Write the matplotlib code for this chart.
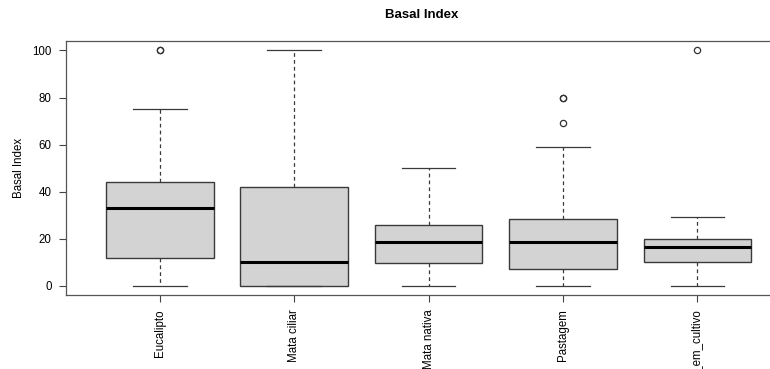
import matplotlib.pyplot as plt

# valores (estatísticas dos boxplots)
categorias = ["Eucalipto", "Mata ciliar", "Mata nativa", "Pastagem", "Area_em_cultivo"]
minimos = [0, 0, 0, 0, 0]
q1 = [11.7, 0, 9.6, 7.3, 10.0]
medianas = [33.3, 10.0, 18.5, 18.5, 16.7]
q3 = [44.2, 42.0, 26.0, 28.5, 19.9]
maximos = [75.0, 100.0, 50.0, 59.0, 29.2]
outliers = [[100, 100], [], [], [80, 80, 69], [100]]

plt.rcParams["font.family"] = ["Liberation Sans", "DejaVu Sans"]

W, H = 770, 369
fig = plt.figure(figsize=(W / 100, H / 100), dpi=100)
ax = fig.add_axes([65.7 / W, 1 - 295.4 / H, (791.5 - 65.7) / W, (295.4 - 41) / H])

stats = []
for i, nome in enumerate(categorias):
    stats.append(dict(label=nome, whislo=minimos[i], q1=q1[i], med=medianas[i],
                      q3=q3[i], whishi=maximos[i], fliers=outliers[i]))

ax.bxp(
    stats,
    positions=range(1, len(categorias) + 1),
    widths=0.8,
    patch_artist=True,
    boxprops=dict(facecolor="#d3d3d3", edgecolor="#3a3a3a", linewidth=1.0),
    medianprops=dict(color="black", linewidth=2.2),
    whiskerprops=dict(color="#3a3a3a", linewidth=0.9, linestyle=(0, (3, 2.5))),
    capprops=dict(color="#3a3a3a", linewidth=0.9),
    capwidths=0.4,
    flierprops=dict(marker="o", markersize=4.5, markerfacecolor="none",
                    markeredgecolor="#333333", markeredgewidth=0.9),
)

ax.set_xlim(0.3, 5.7)
ax.set_ylim(-4, 104)
ax.set_yticks([0, 20, 40, 60, 80, 100])
ax.set_xticks(range(1, len(categorias) + 1))
ax.set_xticklabels(categorias, rotation=90, va="top", ha="center")
ax.tick_params(axis="both", labelsize=8.3, length=5, width=0.8, color="#444444", pad=5)

for lado in ["left", "bottom", "top", "right"]:
    ax.spines[lado].set_color("#555555")
    ax.spines[lado].set_linewidth(0.9)

ax.set_ylabel("Basal Index", fontsize=8.3, labelpad=5)
fig.text(422 / W, 1 - 15 / H, "Basal Index", ha="center", va="center",
         fontsize=9.5, fontweight="bold")

fig.savefig("out.png", dpi=100)
